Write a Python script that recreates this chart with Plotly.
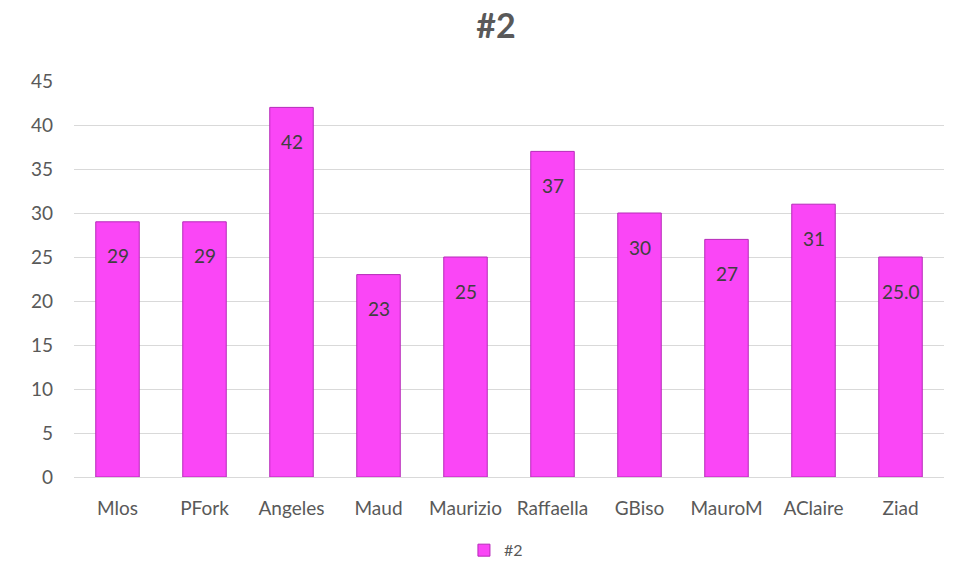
import plotly.graph_objects as go

names = ["Mlos", "PFork", "Angeles", "Maud", "Maurizio", "Raffaella",
         "GBiso", "MauroM", "AClaire", "Ziad"]
scores = [29, 29, 42, 23, 25, 37, 30, 27, 31, 25.0]
score_labels = ["29", "29", "42", "23", "25", "37", "30", "27", "31", "25.0"]
series_name = "#2"
y_ticks = list(range(0, 50, 5))

font_family = "Lato, 'Open Sans', sans-serif"

fig = go.Figure()
fig.add_trace(go.Bar(
    x=names, y=scores, name=series_name,
    marker=dict(color="#FA46F6", line=dict(color="#B62AB8", width=1)),
    showlegend=True,
))

for n, v, t in zip(names, scores, score_labels):
    fig.add_annotation(x=n, y=v, text=t, showarrow=False, yshift=-34,
                       font=dict(size=19, color="#404040", family=font_family))

fig.update_layout(
    width=958, height=572,
    margin=dict(l=74, r=14, t=81, b=95, autoexpand=False),
    paper_bgcolor="white", plot_bgcolor="white",
    bargap=0.5,
    title=dict(text="<b>#2</b>", x=0.485, xref="paper", xanchor="center",
               y=0.955, yanchor="middle",
               font=dict(size=34, color="#595959", family=font_family)),
    font=dict(family=font_family, color="#595959"),
    legend=dict(orientation="h", x=0.485, xanchor="center", xref="paper",
                y=0.038, yref="container", yanchor="middle",
                font=dict(size=16, color="#595959"), itemwidth=30),
    yaxis=dict(range=[0, 45], tickvals=y_ticks, showgrid=True,
               gridcolor="#D9D9D9", gridwidth=1, zeroline=False,
               showline=False, tickfont=dict(size=19, color="#595959"),
               ticks="", ticklen=0, ticklabelstandoff=20),
    xaxis=dict(showline=True, linecolor="#D9D9D9", linewidth=1,
               tickfont=dict(size=19, color="#595959"), ticks="",
               ticklabelstandoff=14),
)

fig.write_html("out.html")
